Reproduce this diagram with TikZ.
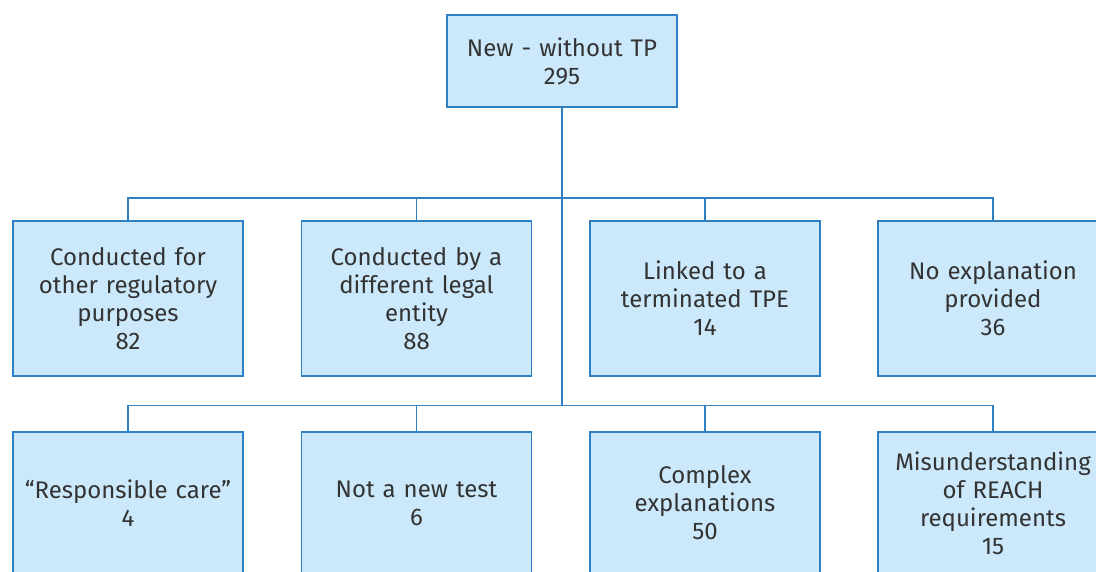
\documentclass[tikz,border=0pt]{standalone}
\usepackage{fontspec}
\setmainfont{Fira Sans}
\definecolor{boxfill}{HTML}{CBE9FA}
\definecolor{boxline}{HTML}{2F80C3}
\definecolor{txtcol}{HTML}{333333}

\begin{document}
\begin{tikzpicture}[x=1pt, y=1pt,
    every node/.style={font=\fontsize{24}{28}\selectfont, text=txtcol},
    box/.style={draw=boxline, fill=boxfill, line width=1.6pt, minimum width=230pt, text width=222pt, align=center},
    link/.style={draw=boxline, line width=1.4pt}]

    % Frame
    \useasboundingbox (0,0) rectangle (1096,-572);
    \clip (0,0) rectangle (1096,-572);

    % Top node
    \node[box, minimum height=92pt] at (562,-61) (top) {New - without TP\\295};

    % First row
    \node[box, minimum height=155pt] at (128,-298.5) (a1) {Conducted for\\other regulatory\\purposes\\82};
    \node[box, minimum height=155pt] at (416.5,-298.5) (a2) {Conducted by a\\different legal\\entity\\88};
    \node[box, minimum height=155pt] at (705,-298.5) (a3) {Linked to a\\terminated TPE\\14};
    \node[box, minimum height=155pt] at (993,-298.5) (a4) {No explanation\\provided\\36};

    % Second row
    \node[box, minimum height=142pt] at (128,-503) (b1) {``Responsible care''\\4};
    \node[box, minimum height=142pt] at (416.5,-503) (b2) {Not a new test\\6};
    \node[box, minimum height=142pt] at (705,-503) (b3) {Complex\\explanations\\50};
    \node[box, minimum height=142pt] at (993,-503) (b4) {Misunderstanding\\of REACH\\requirements\\15};

    % Branch lines
    \coordinate (r1) at (562,-198);
    \coordinate (r2) at (562,-405.5);
    \draw[link] (top.south) -- (r2);
    \draw[link] (a1.north) |- (r1) -| (a4.north);
    \draw[link] (b1.north) |- (r2) -| (b4.north);
    \foreach \n in {a2,a3} \draw[link] (\n.north) -- (\n.north |- r1);
    \foreach \n in {b2,b3} \draw[link] (\n.north) -- (\n.north |- r2);
\end{tikzpicture}
\end{document}
